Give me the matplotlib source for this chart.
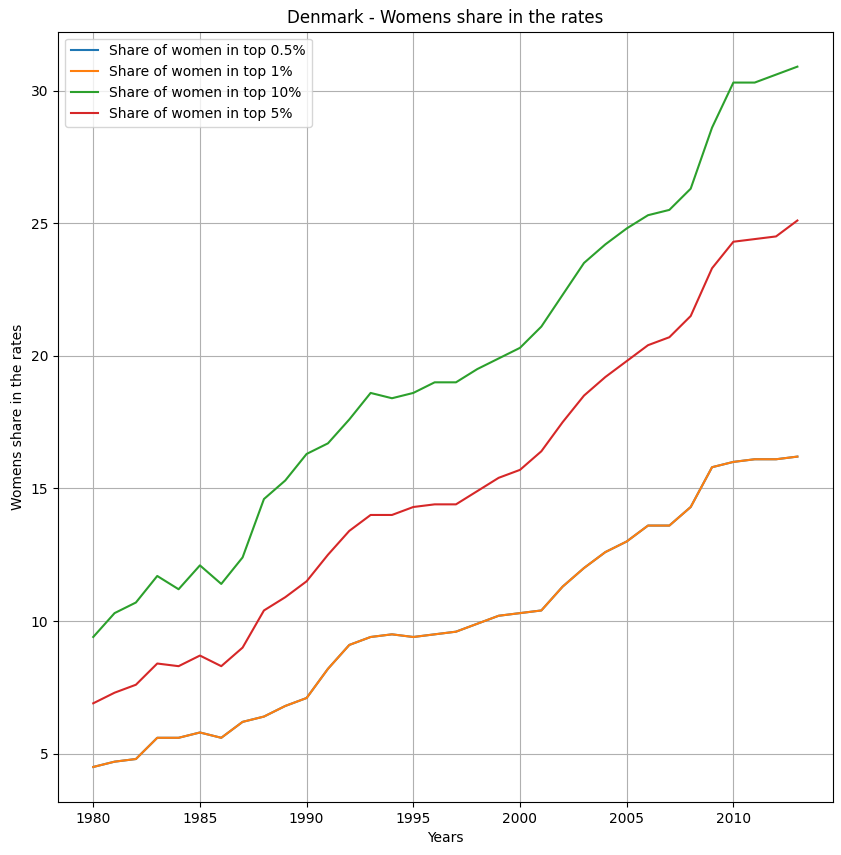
import matplotlib
matplotlib.use("Agg")
import matplotlib.pyplot as plt

years = list(range(1980, 2014))

top1 = [4.5, 4.7, 4.8, 5.6, 5.6, 5.8, 5.6, 6.2, 6.4, 6.8, 7.1, 8.2, 9.1, 9.4, 9.5, 9.4, 9.5,
        9.6, 9.9, 10.2, 10.3, 10.4, 11.3, 12.0, 12.6, 13.0, 13.6, 13.6, 14.3, 15.8, 16.0, 16.1, 16.1, 16.2]
# the 0.5% line is hidden under the 1% line in the reference
top05 = list(top1)
top10 = [9.4, 10.3, 10.7, 11.7, 11.2, 12.1, 11.4, 12.4, 14.6, 15.3, 16.3, 16.7, 17.6, 18.6, 18.4, 18.6, 19.0,
         19.0, 19.5, 19.9, 20.3, 21.1, 22.3, 23.5, 24.2, 24.8, 25.3, 25.5, 26.3, 28.6, 30.3, 30.3, 30.6, 30.9]
top5 = [6.9, 7.3, 7.6, 8.4, 8.3, 8.7, 8.3, 9.0, 10.4, 10.9, 11.5, 12.5, 13.4, 14.0, 14.0, 14.3, 14.4,
        14.4, 14.9, 15.4, 15.7, 16.4, 17.5, 18.5, 19.2, 19.8, 20.4, 20.7, 21.5, 23.3, 24.3, 24.4, 24.5, 25.1]

fig, ax = plt.subplots(figsize=(8.41, 8.55), dpi=100)
ax.plot(years, top05, label="Share of women in top 0.5%")
ax.plot(years, top1, label="Share of women in top 1%")
ax.plot(years, top10, label="Share of women in top 10%")
ax.plot(years, top5, label="Share of women in top 5%")
ax.set_title("Denmark - Womens share in the rates")
ax.set_xlabel("Years")
ax.set_ylabel("Womens share in the rates")
ax.grid(True)
ax.legend(loc="upper left")
fig.subplots_adjust(left=0.069, right=0.99, top=0.963, bottom=0.062)
fig.savefig("out.png")
